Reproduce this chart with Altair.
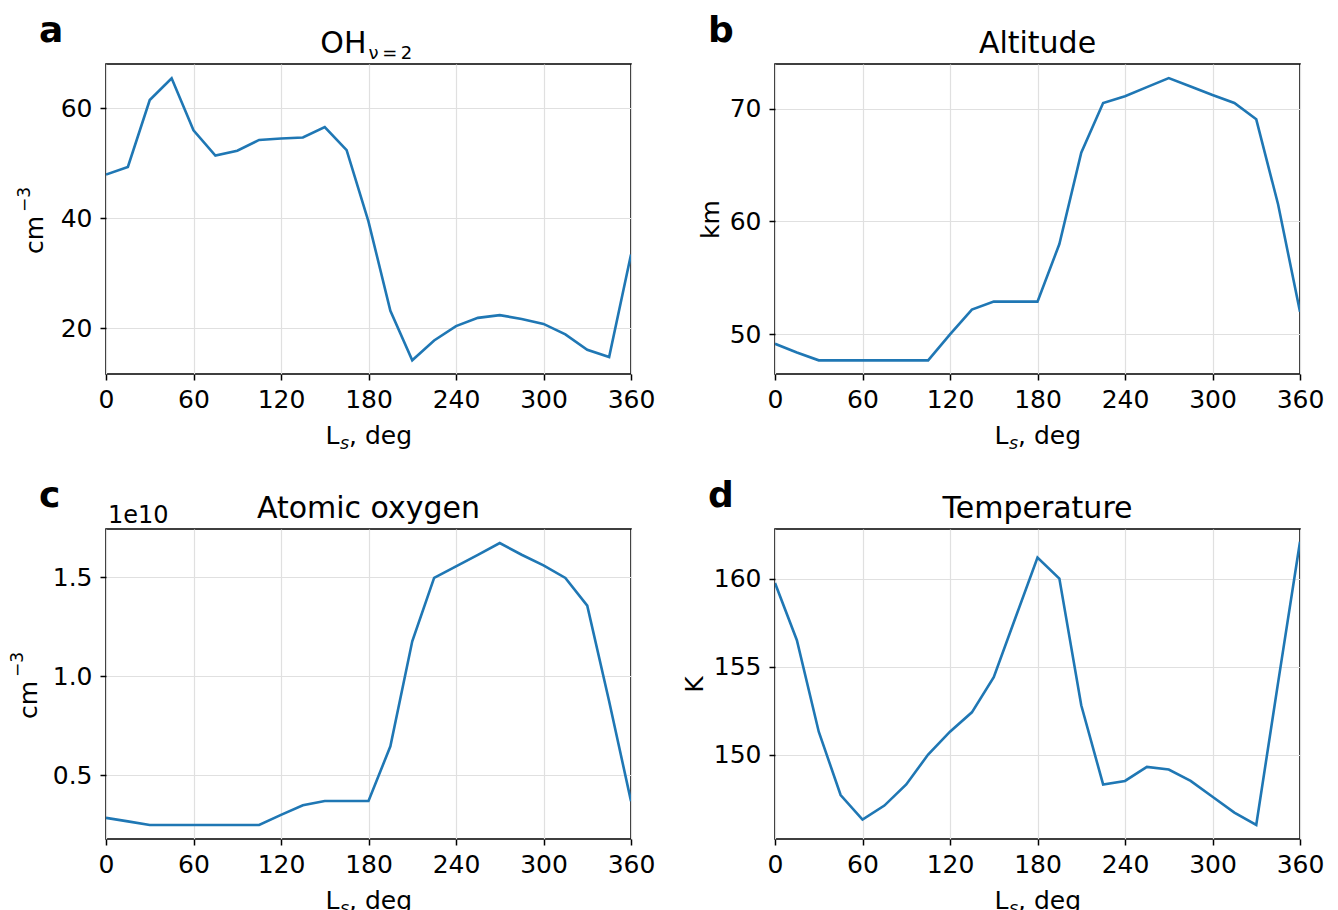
import altair as alt
import pandas as pd

# Solar longitude (deg), sampled every 15 deg
ls_deg = list(range(0, 361, 15))

# Panel a: OH (v=2) number density, cm^-3
oh_v2 = [47.96, 49.35, 61.5, 65.45, 56.0, 51.4, 52.3, 54.25, 54.5, 54.7, 56.6, 52.4,
         39.4, 23.2, 14.2, 17.8, 20.4, 21.9, 22.4, 21.7, 20.8, 18.9, 16.1, 14.8, 33.4]
# Panel b: altitude, km
altitude_km = [49.17, 48.4, 47.7, 47.7, 47.7, 47.7, 47.7, 47.7, 50.0, 52.2, 52.9, 52.9,
               52.9, 58.0, 66.1, 70.5, 71.1, 71.9, 72.7, 71.95, 71.2, 70.5, 69.05, 61.5, 52.0]
# Panel c: atomic oxygen, in units of 1e10 cm^-3
atomic_o_1e10 = [0.285, 0.267, 0.249, 0.249, 0.249, 0.249, 0.249, 0.249, 0.30, 0.348, 0.370, 0.370,
                 0.370, 0.646, 1.177, 1.497, 1.555, 1.613, 1.673, 1.614, 1.56, 1.497, 1.357, 0.874, 0.369]
# Panel d: temperature, K
temperature_k = [159.75, 156.5, 151.3, 147.7, 146.3, 147.1, 148.3, 150.0, 151.3, 152.4, 154.4, 157.8,
                 161.2, 160.0, 152.8, 148.3, 148.5, 149.3, 149.15, 148.5, 147.6, 146.7, 146.0, 154.1, 162.1]

x_ticks = [0, 60, 120, 180, 240, 300, 360]

W, H = 525, 310
FONT = "DejaVu Sans"
one = pd.DataFrame({"k": [0]})


def txt(text, x, y, size, align="left", weight="normal", style="normal", angle=0):
    return alt.Chart(one).mark_text(
        text=text, align=align, baseline="alphabetic", font=FONT, fontSize=size,
        fontWeight=weight, fontStyle=style, color="black", angle=angle
    ).encode(x=alt.value(x), y=alt.value(y))


def xtitle():
    x0 = W / 2 - 43
    yb = H + 70
    return [txt("L", x0, yb, 25),
            txt("s", x0 + 14.5, yb + 5, 17.5, style="italic"),
            txt(", deg", x0 + 23.5, yb, 25)]


def cm3_title(xb):
    # rotated "cm" with a raised "−3" exponent
    return [txt("cm", xb, 190, 25, angle=270),
            txt("\u22123", xb - 13.5, 148, 17, angle=270)]


def panel(values, ydom, yticks, ytitle, title_layers, letter, fmt="d", extra=None):
    df = pd.DataFrame({"ls": ls_deg, "v": values})
    line = alt.Chart(df).mark_line(color="#1f77b4", strokeWidth=2.6, clip=True).encode(
        x=alt.X("ls:Q", scale=alt.Scale(domain=[0, 360], nice=False),
                axis=alt.Axis(values=x_ticks, title=None, format="d")),
        y=alt.Y("v:Q", scale=alt.Scale(domain=ydom, nice=False, zero=False),
                axis=alt.Axis(values=yticks, title=ytitle, format=fmt)),
    )
    layers = [line] + title_layers + [txt(letter, -67, -22, 36, weight="bold")] + xtitle()
    if extra:
        layers += extra
    return alt.layer(*layers).properties(width=W, height=H)


anchor = alt.Chart(one).mark_rule(opacity=0, strokeWidth=1).encode(
    x=alt.value(-96.5), y=alt.value(-55), y2=alt.value(-54))

pa = panel(oh_v2, [11.7, 68.05], [20, 40, 60], None,
           [txt("OH", W / 2 - 2, -11, 30, align="right"),
            txt("ν\u2009=\u20092", W / 2, -5, 18)],
           "a", extra=[anchor] + cm3_title(-63))
pb = panel(altitude_km, [46.49, 73.95], [50, 60, 70], "km",
           [txt("Altitude", W / 2, -11, 30, align="center")], "b")
pc = panel(atomic_o_1e10, [0.178, 1.744], [0.5, 1.0, 1.5], None,
           [txt("Atomic oxygen", W / 2, -11, 30, align="center")], "c", fmt=".1f",
           extra=[txt("1e10", 2, -6, 24)] + cm3_title(-69.5))
p_d = panel(temperature_k, [145.2, 162.82], [150, 155, 160], "K",
            [txt("Temperature", W / 2, -11, 30, align="center")], "d")

chart = alt.concat(
    pa, pb, pc, p_d, columns=2, spacing={"row": 155, "column": 144}, bounds="flush"
).properties(padding=0).configure_axis(
    labelFont=FONT, labelFontSize=25, labelColor="black",
    titleFont=FONT, titleFontSize=25, titleFontWeight="normal", titleColor="black",
    tickColor="black", tickSize=6, tickWidth=1.5, labelPadding=7, titlePadding=8,
    gridColor="#e0e0e0", gridWidth=1.2, domain=False, labelFlush=False,
).configure_axisY(labelPadding=8, titlePadding=6).configure_view(
    stroke="black", strokeWidth=1.6
)

chart.save("out.html", embed_options={"renderer": "svg", "actions": False})
